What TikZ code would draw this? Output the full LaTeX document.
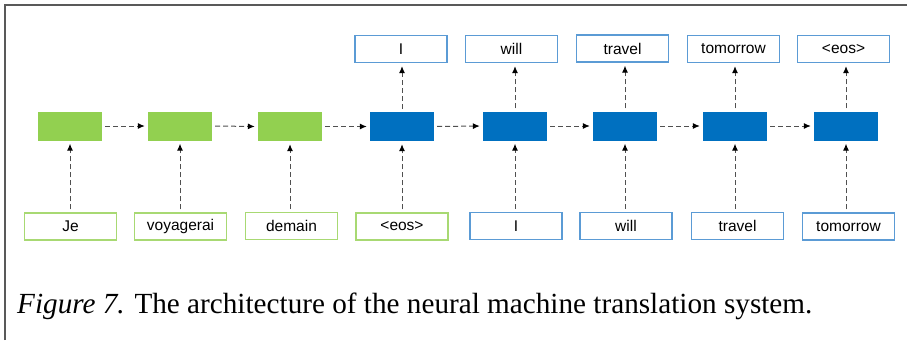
\documentclass[tikz,border=0pt]{standalone}
\usepackage{fontspec}
\setmainfont{Liberation Serif}
\newfontfamily\arial{Liberation Sans}
\usetikzlibrary{arrows.meta}
\definecolor{gfill}{HTML}{92D050}
\definecolor{bfill}{HTML}{0070C0}
\definecolor{gline}{HTML}{92D050}
\definecolor{bline}{HTML}{5B9BD5}
\definecolor{arr}{HTML}{505050}
\tikzset{
  cell/.style={minimum width=64pt, minimum height=29pt, inner sep=0pt, draw=none},
  enc/.style={cell, fill=gfill},
  dec/.style={cell, fill=bfill},
  word/.style={minimum width=92pt, minimum height=27pt, inner sep=0pt, fill=white, line width=1.3pt, font=\arial\fontsize{15.5}{18}\selectfont},
  inw/.style={word, draw=gline!80},
  outw/.style={word, draw=bline},
  link/.style={draw=arr, line width=1pt, dash pattern=on 5pt off 3pt, -{Latex[length=7pt,width=6pt,black]}, shorten >=3pt, shorten <=3pt}
}
\begin{document}
\begin{tikzpicture}[x=1pt,y=-1pt]
\useasboundingbox (0,0) rectangle (907,340);
\fill[white] (0,0) rectangle (907,340);
\draw[line width=1.5pt, color=black!65] (5,340) -- (5,5) -- (907,5);
% cells
\node[enc] (c1) at (70,126) {};
\node[enc] (c2) at (180,126) {};
\node[enc] (c3) at (290,126.5) {};
\node[dec] (c4) at (402,126.5) {};
\node[dec] (c5) at (515,126) {};
\node[dec] (c6) at (625,126) {};
\node[dec] (c7) at (735,126) {};
\node[dec] (c8) at (846,126) {};
% inputs
\node[inw] (i1) at (70.5,226.5) {Je};
\node[inw] (i2) at (180.5,226.5) {voyagerai};
\node[inw] (i3) at (291.5,226) {demain};
\node[inw] (i4) at (402,226.5) {<eos>};
\node[outw] (i5) at (516,226) {I};
\node[outw] (i6) at (626,226) {will};
\node[outw] (i7) at (737.5,226) {travel};
\node[outw] (i8) at (848.5,226.5) {tomorrow};
% outputs
\node[outw] (o4) at (401,49) {I};
\node[outw] (o5) at (511.5,49) {will};
\node[outw] (o6) at (622.5,48.5) {travel};
\node[outw] (o7) at (733.5,49) {tomorrow};
\node[outw] (o8) at (843.5,49) {<eos>};
% horizontal
\foreach \a/\b in {c1/c2,c2/c3,c3/c4,c4/c5,c5/c6,c6/c7,c7/c8}
  \draw[link] (\a.east) -- (\b.west);
% vertical inputs
\foreach \n in {1,...,8}
  \draw[link] (i\n.north -| c\n.south) -- (c\n.south);
% vertical outputs
\foreach \n in {4,...,8}
  \draw[link] (c\n.north) -- (o\n.south -| c\n.north);
% caption
\node[anchor=base west, inner sep=0pt, font=\fontsize{29.2}{33}\selectfont] (cap) at (17,313) {\textit{Figure 7.} The architecture of the neural machine translation system.};
\end{tikzpicture}
\end{document}
